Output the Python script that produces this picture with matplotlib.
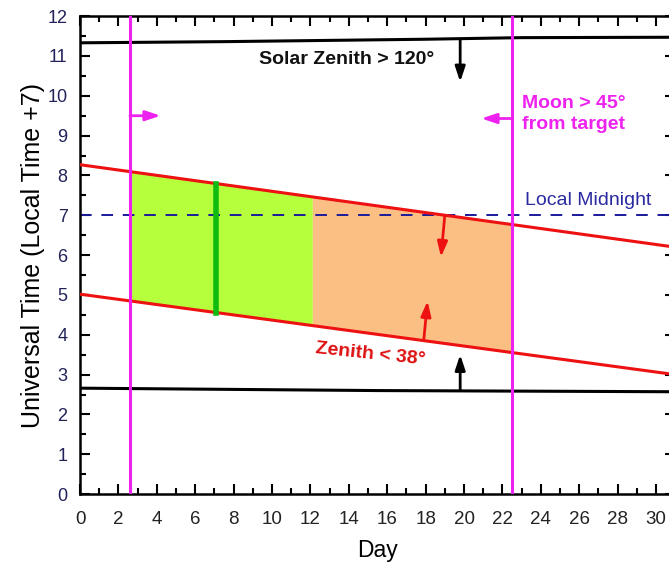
import numpy as np
import matplotlib
matplotlib.use("Agg")
import matplotlib.pyplot as plt
from matplotlib.ticker import MultipleLocator

plt.rcParams['font.family'] = ['Liberation Sans Narrow', 'Liberation Sans', 'DejaVu Sans']

# observing window limits (day of month vs UT hour)
days = [0, 31]
zenith_upper = [8.27, 6.20]      # target zenith < 38 deg, late edge
zenith_lower = [5.02, 3.00]      # target zenith < 38 deg, early edge
sun_top_days = [0, 7.6, 18, 23, 31]
sun_top = [11.33, 11.36, 11.42, 11.46, 11.47]   # solar zenith > 120, evening
sun_bot_days = [0, 15.4, 31]
sun_bot = [2.66, 2.60, 2.57]                    # solar zenith > 120, morning
moon_start, moon_end = 2.6, 22.5
green_end = 12.1
obs_day = 7.1
midnight = 7.0

fig = plt.figure(figsize=(6.69, 5.66), dpi=100)
ax = fig.add_axes([0.1196, 0.127, 0.8897, 0.8445])

def upper(d):
    return np.interp(d, days, zenith_upper)

def lower(d):
    return np.interp(d, days, zenith_lower)

# shaded windows
dg = np.linspace(moon_start, green_end, 50)
ax.fill_between(dg, lower(dg), upper(dg), color='#b6ff3c', lw=0, zorder=1)
do = np.linspace(green_end, moon_end, 50)
ax.fill_between(do, lower(do), upper(do), color='#fbbf84', lw=0, zorder=1)

ax.plot(days, zenith_upper, color='#ee1111', lw=2.2, zorder=3)
ax.plot(days, zenith_lower, color='#ee1111', lw=2.2, zorder=3)
ax.plot(sun_top_days, sun_top, color='black', lw=2.2, zorder=3)
ax.plot(sun_bot_days, sun_bot, color='black', lw=2.2, zorder=3)
ax.axhline(midnight, color='#1a1a9a', lw=1.4, ls=(0, (6, 5)), zorder=2)
ax.axvline(moon_start, color='#ee22ee', lw=2.2, zorder=4)
ax.axvline(moon_end, color='#ee22ee', lw=2.2, zorder=4)
ax.plot([obs_day, obs_day], [lower(obs_day), upper(obs_day)], color='#11bb11', lw=4, zorder=3)

def arrow(x0, y0, x1, y1, c):
    ax.annotate('', xy=(x1, y1), xytext=(x0, y0),
                arrowprops=dict(arrowstyle='-|>,head_length=0.9,head_width=0.3',
                                color=c, lw=2, shrinkA=0, shrinkB=0), zorder=5)

arrow(moon_start, 9.5, moon_start + 1.6, 9.5, '#ee22ee')
arrow(moon_end, 9.43, moon_end - 1.6, 9.43, '#ee22ee')
arrow(19.8, 11.40, 19.8, 10.35, 'black')
arrow(19.8, 2.60, 19.8, 3.50, 'black')
arrow(19.0, upper(19.0), 18.8, 5.95, '#ee1111')
arrow(17.9, lower(17.9), 18.1, 4.85, '#ee1111')

lab = ['Liberation Sans', 'DejaVu Sans']
ax.text(13.9, 10.9, 'Solar Zenith > 120°', color='#111111', fontsize=14,
        fontweight='bold', ha='center', va='center', family=lab)
ax.text(23.0, 9.55, 'Moon > 45°\nfrom target', color='#ee22ee', fontsize=14,
        fontweight='bold', ha='left', va='center', linespacing=1.3, family=lab)
ax.text(23.2, 7.38, 'Local Midnight', color='#2a2aa0', fontsize=14, ha='left', va='center',
        family=lab)
ax.text(15.1, 3.52, 'Zenith < 38°', color='#dd1111', fontsize=14,
        fontweight='bold', ha='center', va='center', rotation=-6,
        family=lab)

ax.set_xlim(0, 31)
ax.set_ylim(0, 12)
ax.xaxis.set_major_locator(MultipleLocator(2))
ax.xaxis.set_minor_locator(MultipleLocator(1))
ax.yaxis.set_major_locator(MultipleLocator(1))
ax.yaxis.set_minor_locator(MultipleLocator(0.5))
ax.tick_params(which='both', direction='in', top=True, right=True, width=1.5)
ax.tick_params(which='major', length=7)
ax.tick_params(which='minor', length=4)
ax.tick_params(axis='x', colors='black', labelcolor='#222222', pad=12, labelsize=13.5)
ax.tick_params(axis='y', colors='black', labelcolor='#22225a', pad=9, labelsize=13)
for s in ax.spines.values():
    s.set_linewidth(1.8)

ax.set_xlabel('Day', fontsize=16.5, labelpad=8)
ax.set_ylabel('Universal Time (Local Time +7)', fontsize=18, labelpad=2)

fig.savefig('out.png', dpi=100)
